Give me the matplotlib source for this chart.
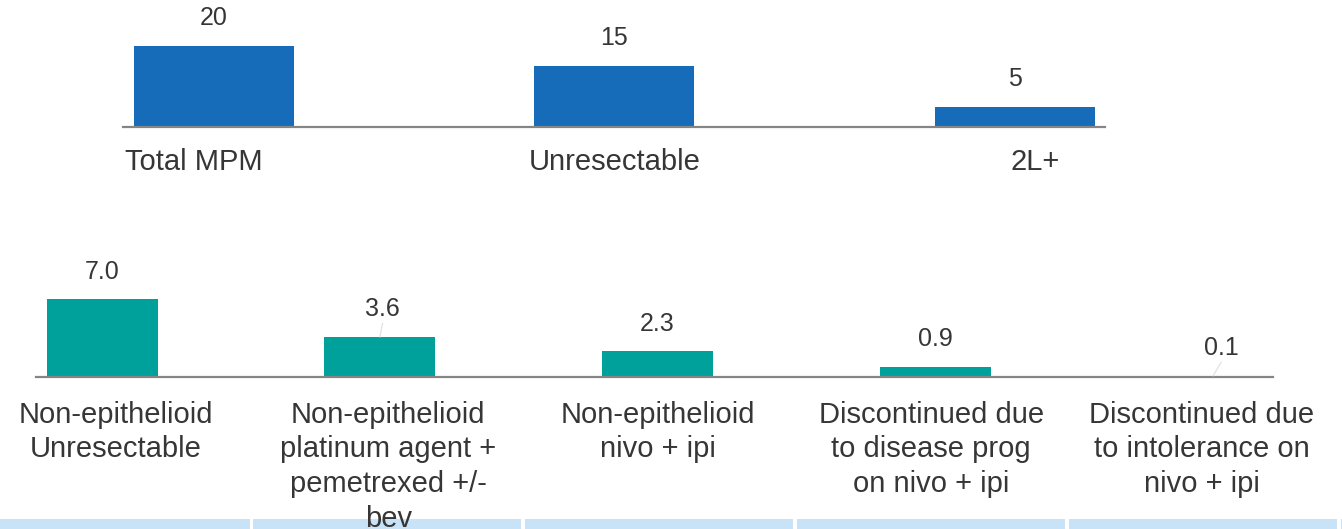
import matplotlib
matplotlib.use("Agg")
import matplotlib.pyplot as plt
from matplotlib.patches import Rectangle

plt.rcParams['font.family'] = ['Liberation Sans', 'DejaVu Sans']

# top chart: patient counts
top_labels = ["Total MPM", "Unresectable", "2L+"]
top_values = [20, 15, 5]
top_value_text = ["20", "15", "5"]

# bottom chart: non-epithelioid funnel
bottom_labels = [
    "Non-epithelioid\nUnresectable",
    "Non-epithelioid\nplatinum agent +\npemetrexed +/-\nbev",
    "Non-epithelioid\nnivo + ipi",
    "Discontinued due\nto disease prog\non nivo + ipi",
    "Discontinued due\nto intolerance on\nnivo + ipi",
]
bottom_values = [7.0, 3.6, 2.3, 0.9, 0.1]
bottom_value_text = ["7.0", "3.6", "2.3", "0.9", "0.1"]

BLUE = "#166cb9"
TEAL = "#00a19a"
TEXT = "#363636"
AXIS = "#858585"
STRIP = "#c8e2f7"

W, H = 1342, 529
fig = plt.figure(figsize=(W / 100, H / 100), dpi=100)


def px_axes(x0, x1, y_base, height):
    # axes placed in pixel coords (y measured from top of image)
    return fig.add_axes([x0 / W, (H - y_base) / H, (x1 - x0) / W, height / H])


def style(ax):
    for s in ["top", "left", "right"]:
        ax.spines[s].set_visible(False)
    ax.spines["bottom"].set_color(AXIS)
    ax.spines["bottom"].set_linewidth(1.6)
    ax.set_yticks([])
    ax.set_xticks([])
    ax.patch.set_alpha(0)


# ---- top ----
ax1 = px_axes(123, 1105, 127, 120)
x1 = list(range(len(top_values)))
ax1.bar(x1, top_values, width=0.4, color=BLUE)
ax1.set_xlim(-0.227, 2.225)
ax1.set_ylim(0, 120 / 4.07)
style(ax1)
for i, v in enumerate(top_values):
    ax1.annotate(top_value_text[i], (x1[i], v), xytext=(0, 20), textcoords="offset points",
                 ha="center", va="center", fontsize=18, color=TEXT)
top_shift = [-0.05, 0.0, 0.05]
for i, lab in enumerate(top_labels):
    ax1.annotate(lab, (x1[i] + top_shift[i], 0), xytext=(0, -25), textcoords="offset points",
                 ha="center", va="center", fontsize=21, color=TEXT, annotation_clip=False)

# ---- bottom ----
ax2 = px_axes(36, 1273, 377, 120)
x2 = list(range(len(bottom_values)))
ax2.bar(x2, bottom_values, width=0.4, color=TEAL)
ax2.set_xlim(-0.238, 4.216)
ax2.set_ylim(0, 120 / 11.1)
style(ax2)
leader = [False, True, False, False, True]
label_dx = [0, 2, 0, 0, 6]
for i, v in enumerate(bottom_values):
    ax2.annotate(bottom_value_text[i], (x2[i], v), xytext=(label_dx[i], 20), textcoords="offset points",
                 ha="center", va="center", fontsize=18, color=TEXT)
    if leader[i]:
        ax2.annotate("", (x2[i], v), xytext=(label_dx[i], 10), textcoords="offset points",
                     arrowprops=dict(arrowstyle="-", color="#e2e2e2", lw=0.9, shrinkA=0, shrinkB=0))
bottom_shift = [0.05, 0.03, 0.0, -0.015, -0.04]
for i, lab in enumerate(bottom_labels):
    ax2.annotate(lab, (x2[i] + bottom_shift[i], 0), xytext=(0, -17), textcoords="offset points",
                 ha="center", va="top", fontsize=21, color=TEXT, linespacing=1.31,
                 annotation_clip=False)

# light blue header strip along the bottom edge
strip_edges = [(0, 250), (253, 521), (525, 793), (797, 1065), (1069, 1337), (1341, 1342)]
for a, b in strip_edges:
    fig.patches.append(Rectangle((a / W, 0), (b - a) / W, 10 / H, transform=fig.transFigure,
                                 facecolor=STRIP, edgecolor="none", zorder=-1))

fig.savefig("out.png", dpi=100)
